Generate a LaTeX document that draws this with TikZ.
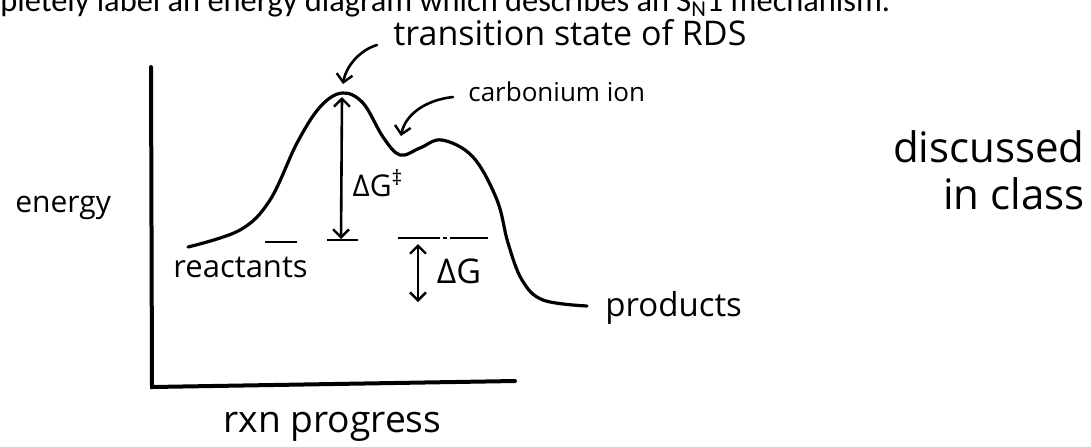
\documentclass[tikz,border=0pt]{standalone}
\usepackage{fontspec}
\setmainfont{Carlito}
\newfontfamily\handfont{Open Sans}
\usetikzlibrary{arrows.meta, positioning}

\tikzset{
  hand/.style={font=\handfont\fontsize{15}{18}\selectfont, inner sep=0pt},
  curve/.style={line width=1.6pt, line cap=round, line join=round},
  axis/.style={line width=2pt, line cap=round},
  level/.style={line width=1.4pt},
  barb/.tip={Straight Barb[length=4pt, width=8pt, line width=1.2pt]},
  harrow/.style={line width=1.3pt, line cap=round, -barb},
  dharrow/.style={line width=1.3pt, line cap=round, barb-barb}
}

\begin{document}
\begin{tikzpicture}[x=0.5pt, y=-0.5pt]
  \useasboundingbox (0,0) rectangle (1091,446);

  % question text, cut at the top of the page
  \node[anchor=base west, inner sep=0pt, font=\fontsize{16.2}{19}\selectfont] (question) at (0,11)
    {pletely label an energy diagram which describes an S\textsubscript{N}1 mechanism.};

  % axes
  \coordinate (ytop) at (151,67);
  \coordinate (origin) at (152,387);
  \coordinate (xend) at (515,381);
  \draw[axis] (ytop) -- (origin) -- (xend);
  \node[hand, anchor=base west] (energy) at (15,212) {energy};
  \node[hand, anchor=base west, font=\handfont\fontsize{18.6}{20}\selectfont] (rxn) at (223,432) {rxn progress};

  % energy curve
  \coordinate (peak) at (342,93);
  \coordinate (valley) at (400,155);
  \draw[curve] plot[smooth, tension=0.6] coordinates {
    (188,247) (240,230) (270,200) (297,143) (320,107) (342,93) (363,103)
    (383,137) (400,155) (420,148) (442,140) (473,157) (497,200) (508,243)
    (522,280) (543,300) (587,306)};

  % levels
  \coordinate (rdashA) at (265,242);
  \coordinate (rdashB) at (297,242);
  \coordinate (tsbase) at (341,239);
  \coordinate (barA) at (327,240);
  \coordinate (barB) at (358,240);
  \coordinate (plineA) at (398,238);
  \coordinate (plineB) at (488,238);
  \draw[level] (rdashA) -- (rdashB);
  \draw[level] (barA) -- (barB);
  \draw[level, dash pattern=on 21pt off 1.5pt on 2pt off 1.5pt on 30pt] (plineA) -- (plineB);

  % labels
  \node[hand, anchor=base west, font=\handfont\fontsize{15.5}{18}\selectfont] (reactants) at (173,277) {reactants};
  \node[hand, anchor=base west, font=\handfont\fontsize{16.5}{18}\selectfont] (products) at (605,316) {products};
  \node[hand, anchor=base west, font=\handfont\fontsize{17}{20}\selectfont] (tslabel) at (393,45) {transition state of RDS};
  \node[hand, anchor=base west, font=\handfont\fontsize{13}{16}\selectfont] (ionlabel) at (468,101) {carbonium ion};
  \node[hand, align=right, anchor=east, font=\handfont\fontsize{21}{23.5}\selectfont] (discussed) at (1085,170) {discussed\\in class};

  % free energy arrows
  \coordinate (peaktip) at (342,97);
  \draw[dharrow] (tsbase) -- (peaktip);
  \node[hand] (dGts) at (378,183) {ΔG\textsuperscript{‡}};
  \coordinate (dGtop) at (418,244);
  \coordinate (dGbot) at (418,302);
  \draw[dharrow] (dGtop) -- (dGbot);
  \node[hand, font=\handfont\fontsize{17}{20}\selectfont] (dG) at (459,271) {ΔG};

  % pointers
  \coordinate (tsstart) at (377,45);
  \coordinate (tstip) at (343,84);
  \draw[harrow] (tsstart) .. controls (360,50) and (346,66) .. (tstip);
  \coordinate (ionstart) at (453,97);
  \coordinate (iontip) at (401,136);
  \draw[harrow] (ionstart) .. controls (425,100) and (405,115) .. (iontip);
\end{tikzpicture}
\end{document}
